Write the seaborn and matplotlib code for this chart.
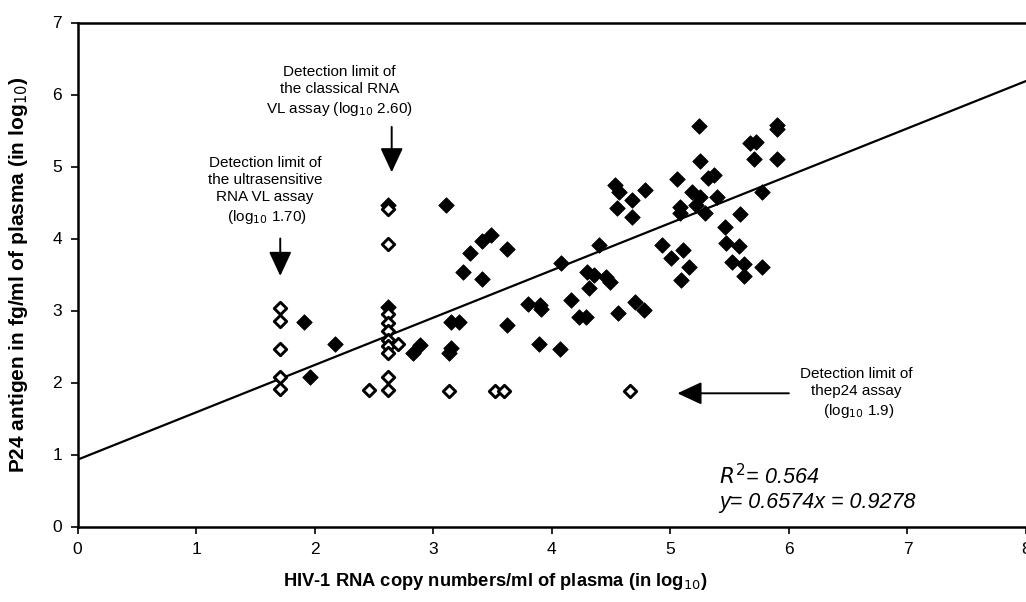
import matplotlib
matplotlib.use("Agg")
import matplotlib.pyplot as plt
import seaborn as sns
import pandas as pd
import numpy as np

# ---- data ----
open_x = [1.71, 1.71, 1.71, 1.71, 1.71,
          2.62, 2.62, 2.62, 2.62, 2.62, 2.62, 2.62, 2.62, 2.70, 2.62, 2.62, 2.46,
          3.13, 3.52, 3.60, 4.66]
open_y = [3.03, 2.86, 2.46, 2.07, 1.91,
          4.41, 3.92, 2.95, 2.82, 2.71, 2.59, 2.51, 2.41, 2.54, 2.07, 1.89, 1.89,
          1.88, 1.88, 1.88, 1.88]

filled_x = [2.62, 2.62, 1.91, 2.17, 1.96, 2.83, 2.89, 3.11,
            3.49, 3.41, 3.31, 3.62, 3.25, 3.41,
            4.08, 4.40, 4.30, 4.36, 4.46, 4.49, 4.31, 4.16,
            3.80, 3.90, 3.91, 4.23, 4.29, 4.56, 4.70, 4.78,
            3.15, 3.22, 3.62, 3.13, 3.15, 3.89, 4.07,
            4.53, 4.57, 4.79, 4.68, 4.55, 4.68,
            5.06, 5.08, 5.08, 5.18, 5.25, 5.22, 5.29, 5.25, 5.24, 5.32, 5.37, 5.39,
            5.77, 5.59, 5.46, 5.47, 5.58, 5.52, 5.62, 5.62, 5.77, 5.72, 5.67, 5.71,
            5.90, 5.90, 5.90, 4.93, 5.01, 5.11, 5.16, 5.09]
filled_y = [4.47, 3.05, 2.84, 2.53, 2.07, 2.41, 2.52, 4.47,
            4.05, 3.97, 3.80, 3.85, 3.53, 3.44,
            3.66, 3.91, 3.54, 3.49, 3.47, 3.40, 3.31, 3.15,
            3.09, 3.08, 3.02, 2.91, 2.91, 2.96, 3.12, 3.01,
            2.84, 2.84, 2.80, 2.41, 2.48, 2.54, 2.46,
            4.74, 4.65, 4.67, 4.53, 4.42, 4.30,
            4.82, 4.44, 4.35, 4.64, 4.58, 4.46, 4.35, 5.08, 5.56, 4.84, 4.88, 4.58,
            4.65, 4.34, 4.16, 3.94, 3.90, 3.67, 3.65, 3.48, 3.61, 5.34, 5.32, 5.11,
            5.11, 5.57, 5.52, 3.91, 3.73, 3.84, 3.61, 3.43]

slope = 0.6574
intercept = 0.9278
x_ticks = [0, 1, 2, 3, 4, 5, 6, 7, 8]
y_ticks = [0, 1, 2, 3, 4, 5, 6, 7]

# ---- figure ----
sns.set_style("white")
plt.rcParams['font.family'] = ['Liberation Sans', 'DejaVu Sans']
plt.rcParams['text.color'] = 'black'
plt.rcParams['axes.labelcolor'] = 'black'
plt.rcParams['xtick.color'] = 'black'
plt.rcParams['ytick.color'] = 'black'

fig = plt.figure(figsize=(10.26, 6.02), dpi=100)
ax = fig.add_axes([77.5/1026, 1 - 526.5/602, 1 - 77.5/1026, (526.5 - 22.5)/602])

df_open = pd.DataFrame({"x": open_x, "y": open_y})
df_fill = pd.DataFrame({"x": filled_x, "y": filled_y})

line_x = np.array([0, 8])
df_line = pd.DataFrame({"x": line_x, "y": slope * line_x + intercept})
sns.lineplot(data=df_line, x="x", y="y", ax=ax, color="black", lw=1.6, zorder=2)

sns.scatterplot(data=df_fill, x="x", y="y", ax=ax, marker="D", s=62,
                color="black", edgecolor="black", linewidth=0.6, zorder=3)
sns.scatterplot(data=df_open, x="x", y="y", ax=ax, marker="D", s=40,
                facecolor="white", edgecolor="black", linewidth=2.1, zorder=4)

ax.set_xlim(0, 8)
ax.set_ylim(0, 7)
ax.set_xticks(x_ticks)
ax.set_yticks(y_ticks)
ax.tick_params(axis="both", labelsize=12.5, length=5, width=1.2, direction="out",
               bottom=True, left=True, pad=6, colors="black")
for s in ["left", "bottom", "top"]:
    ax.spines[s].set_color("black")
    ax.spines[s].set_linewidth(1.8)
ax.spines["right"].set_visible(False)

ax.set_xlabel("HIV-1 RNA copy numbers/ml of plasma (in log$_{10}$)",
              fontsize=13.2, fontweight="bold")
ax.set_ylabel("P24 antigen in fg/ml of plasma (in log$_{10}$)",
              fontsize=15, fontweight="bold")
ax.xaxis.set_label_coords(0.44, -0.088)
ax.yaxis.set_label_coords(-0.05, 0.5)

arrow = dict(arrowstyle="-|>,head_length=0.75,head_width=0.35", color="black",
             lw=1.4, mutation_scale=20, shrinkA=0, shrinkB=0)
ax.annotate("", xy=(2.65, 4.92), xytext=(2.65, 5.55), arrowprops=arrow)
ax.annotate("", xy=(1.71, 3.48), xytext=(1.71, 4.0), arrowprops=arrow)
ax.annotate("", xy=(5.06, 1.85), xytext=(6.0, 1.85), arrowprops=arrow)

afs = 11
ax.text(2.21, 6.04, "Detection limit of\nthe classical RNA\nVL assay (log$_{10}$ 2.60)",
        ha="center", va="center", fontsize=afs, linespacing=1.3, color="black")
ax.text(1.58, 4.66, "Detection limit of\nthe ultrasensitive\nRNA VL assay\n (log$_{10}$ 1.70)",
        ha="center", va="center", fontsize=afs, linespacing=1.3, color="black")
ax.text(6.57, 1.85, "Detection limit of\nthep24 assay\n (log$_{10}$ 1.9)",
        ha="center", va="center", fontsize=afs, linespacing=1.3, color="black")

ax.text(5.41, 0.69, "$R^2$= 0.564", ha="left", va="center", fontsize=15.5, style="italic")
ax.text(5.41, 0.33, "y= 0.6574x = 0.9278", ha="left", va="center", fontsize=15.5,
        style="italic")

fig.savefig("out.png", dpi=100)
